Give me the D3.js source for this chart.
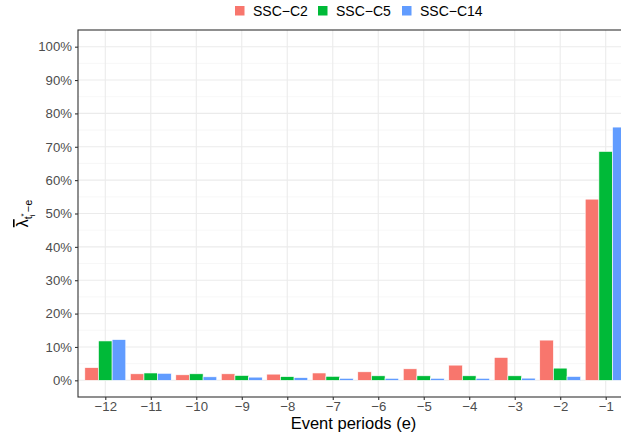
<!DOCTYPE html>
<html>
<head>
<meta charset="utf-8">
<script src="https://cdn.jsdelivr.net/npm/d3@7"></script>
<style>
  html, body { margin: 0; padding: 0; background: #fff; }
  svg { display: block; font-family: "Liberation Sans", Arial, Helvetica, sans-serif; }
</style>
</head>
<body>
<svg id="chart" width="621" height="436"></svg>
<script>
// Event periods on the x axis
const periods = [-12, -11, -10, -9, -8, -7, -6, -5, -4, -3, -2, -1];
// Series names and fill colours
const seriesNames = ["SSC\u2212C2", "SSC\u2212C5", "SSC\u2212C14"];
const seriesColors = ["#F8766D", "#00BA38", "#619CFF"];
// Share per event period (percent)
const c2Values  = [3.8, 1.95, 1.65, 1.95, 1.85, 2.2, 2.55, 3.45, 4.55, 6.85, 12.05, 54.3];
const c5Values  = [11.8, 2.2, 1.95, 1.45, 1.1, 1.2, 1.35, 1.35, 1.35, 1.35, 3.65, 68.6];
const c14Values = [12.2, 2.1, 1.05, 0.95, 0.8, 0.6, 0.6, 0.6, 0.6, 0.65, 1.15, 75.9];
const yTicks = [0, 10, 20, 30, 40, 50, 60, 70, 80, 90, 100];

const seriesValues = [c2Values, c5Values, c14Values];
const rows = [];
periods.forEach((p, i) => {
  seriesNames.forEach((s, j) => rows.push({ period: p, idx: i, series: s, sj: j, value: seriesValues[j][i] }));
});

const svg = d3.select("#chart");
const panel = { left: 78, top: 30, right: 633, bottom: 397 };

// Discrete x positions 1..12 with 0.6 expansion on each side
const x = d3.scaleLinear().domain([0.4, periods.length + 0.6]).range([panel.left, panel.right]);
const dodge = d3.scaleBand().domain(seriesNames).range([-0.45, 0.45]);
const y = d3.scaleLinear().domain([-5, 105]).range([panel.bottom, panel.top]);
const color = d3.scaleOrdinal().domain(seriesNames).range(seriesColors);

const g = svg.append("g");

// Minor gridlines
const minor = d3.range(5, 105, 10);
g.selectAll("line.minor").data(minor).join("line")
  .attr("x1", panel.left).attr("x2", panel.right)
  .attr("y1", d => y(d)).attr("y2", d => y(d))
  .attr("stroke", "#F2F2F2").attr("stroke-width", 0.6);

// Major gridlines
g.selectAll("line.hmajor").data(yTicks).join("line")
  .attr("x1", panel.left).attr("x2", panel.right)
  .attr("y1", d => y(d)).attr("y2", d => y(d))
  .attr("stroke", "#EBEBEB").attr("stroke-width", 1.1);
g.selectAll("line.vmajor").data(periods).join("line")
  .attr("x1", (d, i) => x(i + 1)).attr("x2", (d, i) => x(i + 1))
  .attr("y1", panel.top).attr("y2", panel.bottom)
  .attr("stroke", "#EBEBEB").attr("stroke-width", 1.1);

// Bars
g.selectAll("rect.bar").data(rows).join("rect")
  .attr("x", d => x(d.idx + 1 + dodge(d.series)))
  .attr("width", d => x(dodge.bandwidth()) - x(0))
  .attr("y", d => y(d.value))
  .attr("height", d => y(0) - y(d.value))
  .attr("fill", d => color(d.series))
  .attr("stroke", "#ffffff").attr("stroke-width", 0.6);

// Panel border
g.append("rect")
  .attr("x", panel.left).attr("y", panel.top)
  .attr("width", panel.right - panel.left).attr("height", panel.bottom - panel.top)
  .attr("fill", "none").attr("stroke", "#333333").attr("stroke-width", 1.1);

// Y axis
const yAxis = d3.axisLeft(y).tickValues(yTicks).tickSize(3).tickPadding(3).tickFormat(d => d + "%");
const ya = svg.append("g").attr("transform", `translate(${panel.left},0)`).call(yAxis);
ya.select(".domain").remove();
ya.selectAll(".tick line").attr("stroke", "#333333").attr("stroke-width", 1.1);
ya.selectAll(".tick text").attr("fill", "#4D4D4D").attr("font-size", 13.2).attr("font-family", null);

// X axis
const xAxis = d3.axisBottom(x).tickValues(periods.map((p, i) => i + 1)).tickSize(3).tickPadding(2)
  .tickFormat(v => String(periods[v - 1]).replace("-", "\u2212"));
const xa = svg.append("g").attr("transform", `translate(0,${panel.bottom})`).call(xAxis);
xa.select(".domain").remove();
xa.selectAll(".tick line").attr("stroke", "#333333").attr("stroke-width", 1.1);
xa.selectAll(".tick text").attr("fill", "#4D4D4D").attr("font-size", 13.2).attr("font-family", null);

// Axis titles
svg.append("text")
  .attr("x", (panel.left + panel.right) / 2 - 2).attr("y", 429)
  .attr("text-anchor", "middle").attr("font-size", 16.5).attr("fill", "#000")
  .text("Event periods (e)");

// lambda-bar with subscript t_i^* - e, centred on the panel
const yt = svg.append("text")
  .attr("transform", `translate(28,${(panel.top + panel.bottom) / 2}) rotate(-90)`)
  .attr("text-anchor", "middle").attr("fill", "#000").attr("font-size", 16);
yt.append("tspan").attr("text-decoration", "overline").text("\u03BB");
yt.append("tspan").attr("font-size", 11).attr("dy", 4).text("t");
yt.append("tspan").attr("font-size", 8).attr("dy", 2.5).text("i");
yt.append("tspan").attr("font-size", 8).attr("dy", -9).attr("dx", -2).text("*");
yt.append("tspan").attr("font-size", 11).attr("dy", 6.5).attr("dx", 1).text("\u2212e");

// Legend
const legendX = [235, 318, 402];
const legend = svg.append("g");
seriesNames.forEach((s, j) => {
  legend.append("rect")
    .attr("x", legendX[j]).attr("y", 6).attr("width", 9.5).attr("height", 9.5)
    .attr("fill", color(s));
  legend.append("text")
    .attr("x", legendX[j] + 18).attr("y", 16)
    .attr("font-size", 14).attr("fill", "#000").text(s);
});
</script>
</body>
</html>
